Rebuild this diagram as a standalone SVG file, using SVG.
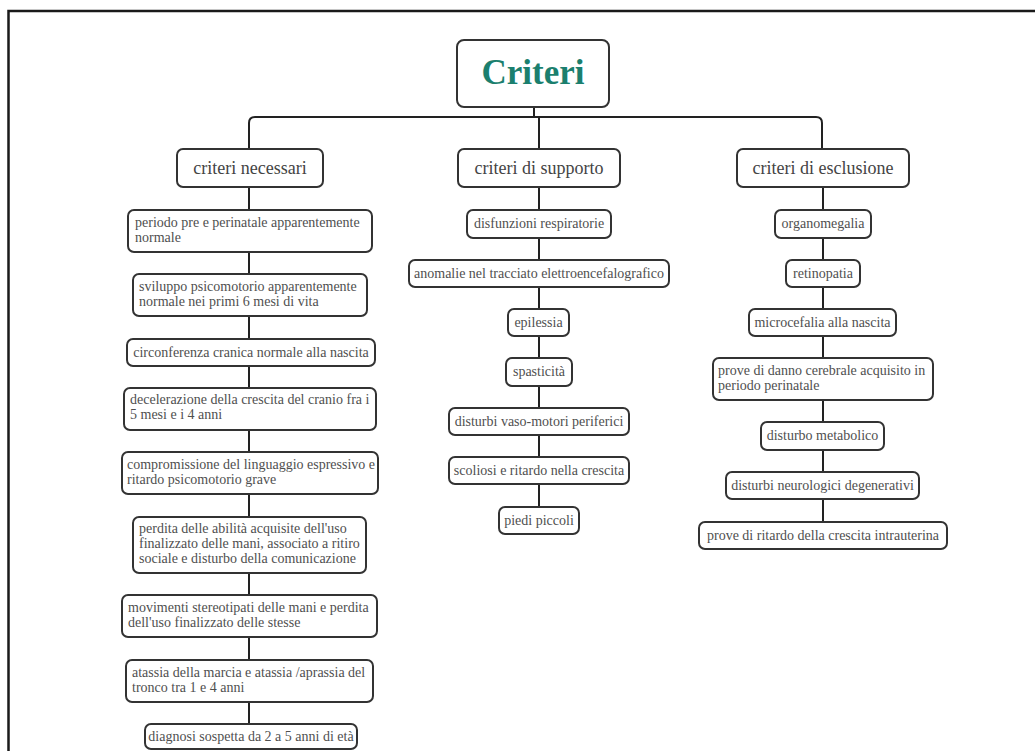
<svg xmlns="http://www.w3.org/2000/svg" width="1035" height="751" viewBox="0 0 1035 751">
<style>
.box{fill:#fff;stroke:#333;stroke-width:2}
.t{font-family:"Liberation Serif","Times New Roman",serif;font-size:14px;fill:#4f4f4f}
.c{text-anchor:middle}
.h{font-family:"Liberation Serif","Times New Roman",serif;font-size:18px;fill:#444;text-anchor:middle}
.title{font-family:"Liberation Serif","Times New Roman",serif;font-size:35px;font-weight:bold;fill:#1b7f6e;text-anchor:middle}
.con{fill:none;stroke:#222;stroke-width:2}
</style>
<rect x="0" y="0" width="1035" height="751" fill="#fff"/>
<path d="M8.5,751 V11 H1035" fill="none" stroke="#1a1a1a" stroke-width="2.5"/>

<g id="connectors" class="con">
<path d="M534,107 V117"/>
<path d="M249,149 V123 Q249,117 255,117 H816 Q822,117 822,123 V149"/>
<path d="M539,117 V149"/>
<path d="M249,187 V210 M249,252 V274 M249,316 V339 M249,366 V388 M249,430 V452 M249,494 V517 M249,573 V595 M249,637 V660 M249,702 V724"/>
<path d="M539,187 V210 M539,238 V260 M539,287 V309 M539,336 V358 M539,386 V408 M539,435 V457 M539,484 V507"/>
<path d="M823,187 V210 M823,238 V260 M823,287 V309 M823,336 V358 M823,400 V422 M823,450 V472 M823,499 V522"/>
</g>

<g id="root"><rect class="box" x="457" y="40" width="152" height="67" rx="7"/><text class="title" x="533" y="84">Criteri</text></g>

<g id="col-necessari"><rect class="box" x="177" y="149" width="146" height="38" rx="6"/><text class="h" x="250" y="174">criteri necessari</text></g>
<g id="col-supporto"><rect class="box" x="458" y="149" width="162" height="38" rx="6"/><text class="h" x="539" y="174">criteri di supporto</text></g>
<g id="col-esclusione"><rect class="box" x="737" y="149" width="172" height="38" rx="6"/><text class="h" x="823" y="174">criteri di esclusione</text></g>

<g id="n1"><rect class="box" x="128" y="210" width="244" height="42" rx="6"/><text class="t" x="135" y="227">periodo pre e perinatale apparentemente<tspan x="135" y="242">normale</tspan></text></g>
<g id="n2"><rect class="box" x="133" y="274" width="234" height="42" rx="6"/><text class="t" x="139" y="291">sviluppo psicomotorio apparentemente<tspan x="139" y="306">normale nei primi 6 mesi di vita</tspan></text></g>
<g id="n3"><rect class="box" x="127" y="339" width="248" height="27" rx="6"/><text class="t c" x="251" y="357">circonferenza cranica normale alla nascita</text></g>
<g id="n4"><rect class="box" x="124" y="388" width="252" height="42" rx="6"/><text class="t" x="130" y="404">decelerazione della crescita del cranio fra i<tspan x="130" y="419">5 mesi e i 4 anni</tspan></text></g>
<g id="n5"><rect class="box" x="122" y="452" width="256" height="42" rx="6"/><text class="t" x="127" y="469">compromissione del linguaggio espressivo e<tspan x="127" y="484">ritardo psicomotorio grave</tspan></text></g>
<g id="n6"><rect class="box" x="133" y="517" width="233" height="56" rx="6"/><text class="t" x="139" y="533">perdita delle abilità acquisite dell'uso<tspan x="139" y="548">finalizzato delle mani, associato a ritiro</tspan><tspan x="139" y="563">sociale e disturbo della comunicazione</tspan></text></g>
<g id="n7"><rect class="box" x="122" y="595" width="255" height="42" rx="6"/><text class="t" x="128" y="612">movimenti stereotipati delle mani e perdita<tspan x="128" y="627">dell'uso finalizzato delle stesse</tspan></text></g>
<g id="n8"><rect class="box" x="126" y="660" width="247" height="42" rx="6"/><text class="t" x="132" y="677">atassia della marcia e atassia /aprassia del<tspan x="132" y="692">tronco tra 1 e 4 anni</tspan></text></g>
<g id="n9"><rect class="box" x="145" y="724" width="212" height="25" rx="6"/><text class="t c" x="251" y="741">diagnosi sospetta da 2 a 5 anni di età</text></g>

<g id="s1"><rect class="box" x="467" y="210" width="144" height="28" rx="6"/><text class="t c" x="539" y="228">disfunzioni respiratorie</text></g>
<g id="s2"><rect class="box" x="409" y="260" width="260" height="27" rx="6"/><text class="t c" x="539" y="278">anomalie nel tracciato elettroencefalografico</text></g>
<g id="s3"><rect class="box" x="508" y="309" width="61" height="27" rx="6"/><text class="t c" x="538.5" y="327">epilessia</text></g>
<g id="s4"><rect class="box" x="506" y="358" width="66" height="28" rx="6"/><text class="t c" x="539" y="376">spasticità</text></g>
<g id="s5"><rect class="box" x="449" y="408" width="180" height="27" rx="6"/><text class="t c" x="539" y="426">disturbi vaso-motori periferici</text></g>
<g id="s6"><rect class="box" x="449" y="457" width="180" height="27" rx="6"/><text class="t c" x="539" y="475">scoliosi e ritardo nella crescita</text></g>
<g id="s7"><rect class="box" x="499" y="507" width="80" height="27" rx="6"/><text class="t c" x="539" y="525">piedi piccoli</text></g>

<g id="e1"><rect class="box" x="775" y="210" width="96" height="28" rx="6"/><text class="t c" x="823" y="228">organomegalia</text></g>
<g id="e2"><rect class="box" x="786" y="260" width="74" height="27" rx="6"/><text class="t c" x="823" y="278">retinopatia</text></g>
<g id="e3"><rect class="box" x="749" y="309" width="147" height="27" rx="6"/><text class="t c" x="822.5" y="327">microcefalia alla nascita</text></g>
<g id="e4"><rect class="box" x="713" y="358" width="220" height="42" rx="6"/><text class="t" x="718" y="375">prove di danno cerebrale acquisito in<tspan x="718" y="390">periodo perinatale</tspan></text></g>
<g id="e5"><rect class="box" x="761" y="422" width="123" height="28" rx="6"/><text class="t c" x="822.5" y="440">disturbo metabolico</text></g>
<g id="e6"><rect class="box" x="726" y="472" width="193" height="27" rx="6"/><text class="t c" x="822.5" y="490">disturbi neurologici degenerativi</text></g>
<g id="e7"><rect class="box" x="699" y="522" width="248" height="27" rx="6"/><text class="t c" x="823" y="540">prove di ritardo della crescita intrauterina</text></g>
</svg>
